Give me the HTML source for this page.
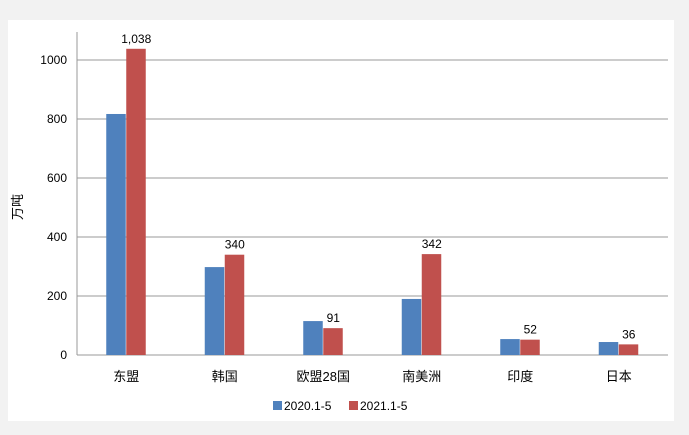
<!DOCTYPE html>
<html><head><meta charset="utf-8"><style>
body{margin:0;background:#f2f2f2;width:689px;height:435px;overflow:hidden}
svg{display:block;font-family:"Liberation Sans","Noto Sans CJK SC",sans-serif}
</style></head><body>
<svg width="689" height="435">
<rect x="8" y="20" width="666" height="401" fill="#fff"/>
<g id="grid"></g><g id="bars"></g><g id="labels"></g>
<text x="22" y="207" font-size="13" text-anchor="middle" transform="rotate(-90 22 207)" font-family="Liberation Sans,Noto Sans CJK SC,sans-serif">万吨</text>
<g>
<rect x="273" y="401" width="9" height="9" fill="#4f81bd"/>
<text x="284" y="410" font-size="12">2020.1-5</text>
<rect x="349" y="401" width="9" height="9" fill="#c0504d"/>
<text x="360" y="410" font-size="12">2021.1-5</text>
</g>
</svg>
<script>
const categories=["东盟","韩国","欧盟28国","南美洲","印度","日本"];
const s2020=[817,298,115,190,54,44];
const s2021=[1038,340,91,342,52,36];
const labels2021=["1,038","340","91","342","52","36"];
const ticks=[0,200,400,600,800,1000];
const NS="http://www.w3.org/2000/svg";
const x0=77,x1=668,y0=355,k=0.295;
const y=v=>y0-v*k;
const bw=(x1-x0)/categories.length;
function mk(t,a,p){const e=document.createElementNS(NS,t);for(const n in a)e.setAttribute(n,a[n]);document.getElementById(p).appendChild(e);return e;}
ticks.forEach(t=>{
 const l=mk('line',{x1:x0,x2:x1,y1:y(t),y2:y(t),stroke:t?'#999':'#999','stroke-width':1},'grid');
 
 
 const tx=mk('text',{x:x0-10,y:y(t)+4,'text-anchor':'end','font-size':12},'grid');tx.textContent=t;
 
 
});
const ax=mk('line',{x1:x0,x2:x0,y1:32,y2:y0,stroke:'#999'},'grid');


categories.forEach((c,i)=>{
 const cx=x0+bw*(i+0.5);
 const b1=mk('rect',{x:cx-20,y:y(s2020[i]),width:19.5,height:s2020[i]*k,fill:'#4f81bd'},'bars');
 
 
 const b2=mk('rect',{x:cx,y:y(s2021[i]),width:19.5,height:s2021[i]*k,fill:'#c0504d'},'bars');
 
 
 const v=mk('text',{x:cx+10,y:y(s2021[i])-6,'text-anchor':'middle','font-size':12},'labels');v.textContent=labels2021[i];
 
 
 const cl=mk('text',{x:cx,y:381,'text-anchor':'middle','font-size':13},'labels');cl.textContent=c;
 
 
});
</script>
</body></html>
